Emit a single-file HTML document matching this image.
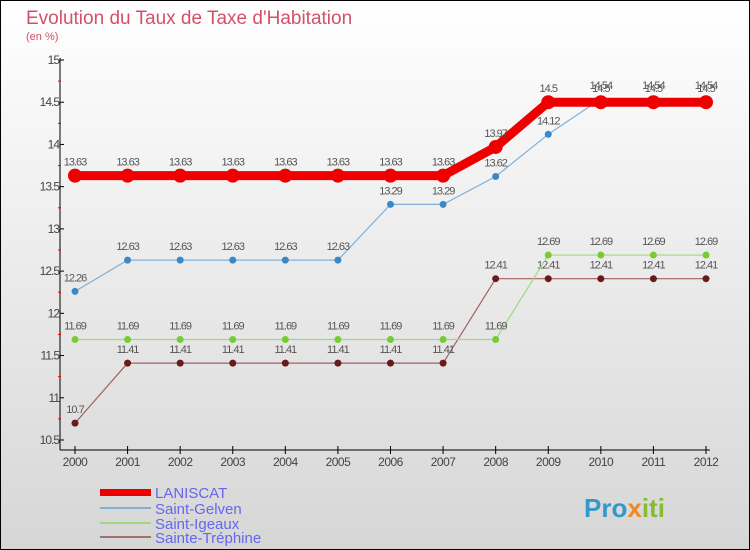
<!DOCTYPE html>
<html><head><meta charset="utf-8"><style>
body{margin:0;width:750px;height:550px;overflow:hidden;font-family:"Liberation Sans",sans-serif}
svg{display:block}
</style></head><body>
<svg id="chart" width="750" height="550" xmlns="http://www.w3.org/2000/svg">
<defs><linearGradient id="bg" x1="0" y1="0" x2="0" y2="1"><stop offset="0" stop-color="#ffffff"/><stop offset="1" stop-color="#d6d6d6"/></linearGradient></defs>
<rect x="0.5" y="0.5" width="749" height="549" fill="url(#bg)" stroke="#000"/>
<text x="26" y="24" font-size="19" fill="#d4506a">Evolution du Taux de Taxe d'Habitation</text>
<text x="26" y="40" font-size="11" fill="#d4506a">(en %)</text>
<g id="axes"></g><g id="series"></g>
<g>
<rect x="100" y="489" width="51" height="7" fill="#e00"/>
<text x="155" y="498" font-size="15" fill="#6666ee">LANISCAT</text>
<rect x="100" y="507" width="51" height="2" fill="#80b0d0"/>
<text x="155" y="514" font-size="15" fill="#6666ee">Saint-Gelven</text>
<rect x="100" y="522" width="51" height="2" fill="#a0d880"/>
<text x="155" y="529" font-size="15" fill="#6666ee">Saint-Igeaux</text>
<rect x="100" y="536" width="51" height="2" fill="#a07070"/>
<text x="155" y="543" font-size="15" fill="#6666ee">Sainte-Tréphine</text>
</g>
<text x="584" y="517" font-size="26" font-weight="bold" fill="#3399cc">Pro<tspan fill="#ee8822">x</tspan><tspan fill="#88bb33">iti</tspan></text>
</svg>
<script>
const years=[2000,2001,2002,2003,2004,2005,2006,2007,2008,2009,2010,2011,2012];
const yTicks=[10.5,11,11.5,12,12.5,13,13.5,14,14.5,15];
const laniscat=[13.63,13.63,13.63,13.63,13.63,13.63,13.63,13.63,13.97,14.5,14.5,14.5,14.5];
const saintGelven=[12.26,12.63,12.63,12.63,12.63,12.63,13.29,13.29,13.62,14.12,14.54,14.54,14.54];
const saintIgeaux=[11.69,11.69,11.69,11.69,11.69,11.69,11.69,11.69,11.69,12.69,12.69,12.69,12.69];
const sainteTrephine=[10.7,11.41,11.41,11.41,11.41,11.41,11.41,11.41,12.41,12.41,12.41,12.41,12.41];
const NS="http://www.w3.org/2000/svg";
const X=i=>75+i*(631/12);
const Y=v=>60+(15-v)*84.44;
function mk(t,a,p){const e=document.createElementNS(NS,t);for(const k in a)e.setAttribute(k,a[k]);p.appendChild(e);return e;}
const ax=document.getElementById('axes');
let e=mk('line',{x1:60,y1:58,x2:60,y2:450,stroke:'#000'},ax);


e=mk('line',{x1:60,y1:450,x2:710,y2:450,stroke:'#000'},ax);


yTicks.forEach((v,i)=>{
 mk('line',{x1:60,y1:Y(v),x2:64,y2:Y(v),stroke:'#000'},ax);
 if(i<yTicks.length-1)mk('line',{x1:58,y1:Y(v+0.25),x2:61,y2:Y(v+0.25),stroke:'#e00'},ax);
 const t=mk('text',{x:59,y:Y(v)+4,'font-size':12,fill:'#444','text-anchor':'end','letter-spacing':'-1'},ax);
 t.textContent=String(v);
 
 
});
years.forEach((yr,i)=>{
 mk('line',{x1:X(i),y1:446,x2:X(i),y2:454,stroke:'#000'},ax);
 const t=mk('text',{x:X(i),y:466,'font-size':12,fill:'#444','text-anchor':'middle','letter-spacing':'-0.5'},ax);
 t.textContent=yr;
 
 
});
const sg=document.getElementById('series');
function draw(vals,name,color,dot,w,r){
 const g=mk('g',{},sg);
 
 
 const l=mk('polyline',{points:vals.map((v,i)=>X(i)+','+Y(v)).join(' '),fill:'none',stroke:color,'stroke-width':w},g);
 
 
 vals.forEach((v,i)=>{
  const c=mk('circle',{cx:X(i),cy:Y(v),r:r,fill:dot},g);
  
  
  const t=mk('text',{x:X(i),y:Y(v)-10,'font-size':11,fill:'#555','text-anchor':'middle','letter-spacing':'-1'},g);
  t.textContent=String(v);
  
  
 });
}
draw(sainteTrephine,'sainte-trephine','#a06060','#6b1a1a',1.2,3.5);
draw(saintIgeaux,'saint-igeaux','#a0d880','#77cc33',1.2,3.5);
draw(saintGelven,'saint-gelven','#80b0d8','#3a88c8',1.2,3.5);
draw(laniscat,'laniscat','#ee0000','#ee0000',9,7);
</script>
</body></html>
